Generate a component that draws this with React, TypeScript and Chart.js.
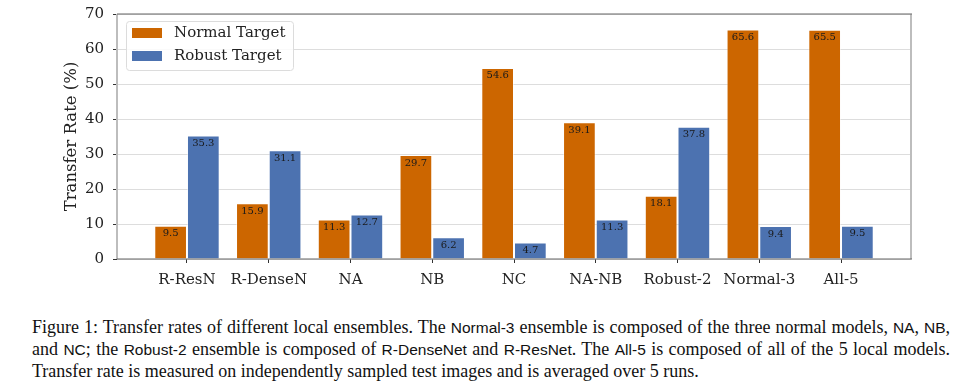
import React, { useEffect, useRef } from 'react';
import { Chart, registerables } from 'chart.js';

Chart.register(...registerables);

const categories = ['R-ResN', 'R-DenseN', 'NA', 'NB', 'NC', 'NA-NB', 'Robust-2', 'Normal-3', 'All-5'];
const normalTarget = [9.5, 15.9, 11.3, 29.7, 54.6, 39.1, 18.1, 65.6, 65.5];
const robustTarget = [35.3, 31.1, 12.7, 6.2, 4.7, 11.3, 37.8, 9.4, 9.5];
const seriesLabels = ['Normal Target', 'Robust Target'];
const yTicks = [0, 10, 20, 30, 40, 50, 60, 70];
const yTitle = 'Transfer Rate (%)';

const ORANGE = '#CC6600';
const BLUE = '#4C72B0';
const SERIF = '"DejaVu Serif", serif';

const valueLabelPlugin = {
  id: 'valueLabels',
  afterDatasetsDraw(chart: any) {
    const ctx = chart.ctx;
    ctx.save();
    ctx.font = `10px ${SERIF}`;
    ctx.fillStyle = '#1a1a1a';
    ctx.textAlign = 'center';
    ctx.textBaseline = 'middle';
    chart.data.datasets.forEach((ds: any, di: number) => {
      const meta = chart.getDatasetMeta(di);
      meta.data.forEach((el: any, i: number) => {
        const v = ds.data[i].y;
        ctx.fillText(v.toFixed(1), el.x, el.y + 8);
      });
    });
    ctx.restore();
  },
};

const framePlugin = {
  id: 'frame',
  afterDraw(chart: any) {
    const { ctx, chartArea: a } = chart;
    ctx.save();
    ctx.strokeStyle = '#bdbdbd';
    ctx.lineWidth = 2;
    ctx.beginPath();
    ctx.moveTo(a.left, a.top);
    ctx.lineTo(a.left, a.bottom);
    ctx.moveTo(a.right, a.top);
    ctx.lineTo(a.right, a.bottom);
    ctx.stroke();
    ctx.strokeStyle = '#666';
    ctx.lineWidth = 1.2;
    ctx.beginPath();
    ctx.moveTo(a.left, a.top);
    ctx.lineTo(a.right + 1, a.top);
    ctx.moveTo(a.left, a.bottom);
    ctx.lineTo(a.right + 1, a.bottom);
    ctx.stroke();
    ctx.restore();
  },
};

const legendPlugin = {
  id: 'boxLegend',
  afterDraw(chart: any) {
    const { ctx, chartArea: a } = chart;
    const x0 = a.left + 9;
    const y0 = a.top + 7;
    const w = 167;
    const h = 49;
    ctx.save();
    ctx.fillStyle = 'rgba(255,255,255,0.85)';
    ctx.strokeStyle = '#dcdcdc';
    ctx.lineWidth = 1;
    ctx.beginPath();
    (ctx as any).roundRect(x0 + 0.5, y0 + 0.5, w, h, 3);
    ctx.fill();
    ctx.stroke();
    ctx.font = `15px ${SERIF}`;
    ctx.textBaseline = 'middle';
    ctx.textAlign = 'left';
    chart.data.datasets.forEach((ds: any, i: number) => {
      const cy = y0 + 12 + i * 23;
      ctx.fillStyle = ds.backgroundColor;
      ctx.fillRect(x0 + 6, cy - 5, 30, 10);
      ctx.fillStyle = '#222';
      ctx.fillText(ds.label, x0 + 48, cy + 0.5);
    });
    ctx.restore();
  },
};

function BarChart() {
  const ref = useRef<HTMLCanvasElement | null>(null);
  useEffect(() => {
    if (!ref.current) return;
    const chart = new Chart(ref.current, {
      type: 'bar',
      data: {
        datasets: [
          {
            label: seriesLabels[0],
            data: normalTarget.map((v, i) => ({ x: i, y: v })),
            backgroundColor: ORANGE,
            borderColor: 'rgba(255,255,255,0.45)',
            borderWidth: 1,
            categoryPercentage: 0.8,
            barPercentage: 1.0,
          },
          {
            label: seriesLabels[1],
            data: robustTarget.map((v, i) => ({ x: i, y: v })),
            backgroundColor: BLUE,
            borderColor: 'rgba(255,255,255,0.45)',
            borderWidth: 1,
            categoryPercentage: 0.8,
            barPercentage: 1.0,
          },
        ],
      },
      options: {
        responsive: false,
        animation: false,
        layout: { padding: { left: 0, right: 60, top: 14, bottom: 0 } },
        plugins: { legend: { display: false }, tooltip: { enabled: false } },
        scales: {
          x: {
            type: 'linear',
            offset: false,
            min: -0.856,
            max: 8.856,
            afterBuildTicks: (axis: any) => {
              axis.ticks = categories.map((_, i) => ({ value: i }));
            },
            afterFit: (axis: any) => {
              axis.height = 41;
              axis.paddingLeft = 0;
              axis.paddingRight = 0;
            },
            ticks: {
              autoSkip: false,
              maxRotation: 0,
              padding: 8,
              color: '#222',
              font: { family: SERIF, size: 15 },
              callback: (v: any) => categories[Math.round(Number(v))] ?? '',
            },
            grid: { offset: false, drawOnChartArea: false, drawTicks: true, tickLength: 4, tickColor: '#333' },
            border: { display: false },
          },
          y: {
            min: 0,
            max: 70,
            z: 1,
            afterBuildTicks: (axis: any) => {
              axis.ticks = yTicks.map((v) => ({ value: v }));
            },
            afterFit: (axis: any) => {
              axis.width = 117;
              axis.paddingTop = 0;
              axis.paddingBottom = 0;
            },
            ticks: {
              padding: 9,
              color: '#222',
              font: { family: SERIF, size: 15 },
            },
            grid: {
              color: 'rgba(180,180,180,0.45)',
              lineWidth: 1,
              drawTicks: true,
              tickLength: 4,
              tickColor: '#333',
            },
            border: { display: false },
            title: {
              display: true,
              text: yTitle,
              color: '#222',
              font: { family: SERIF, size: 16.5 },
              padding: { top: 62, bottom: 0 },
            },
          },
        },
      },
      plugins: [valueLabelPlugin, framePlugin, legendPlugin],
    } as any);
    return () => chart.destroy();
  }, []);
  return <canvas ref={ref} width={971} height={300} style={{ display: 'block', width: 971, height: 300 }} />;
}

const SANS: React.CSSProperties = { fontFamily: '"Liberation Sans", sans-serif', fontSize: '15.5px' };

export default function App() {
  const lineStyle: React.CSSProperties = {
    width: 918,
    textAlign: 'justify',
    textAlignLast: 'justify' as any,
    whiteSpace: 'nowrap',
    height: 22,
  };
  return (
    <div style={{ position: 'absolute', left: 0, top: 0, width: 971, height: 390, background: '#fff', overflow: 'hidden' }}>
      <BarChart />
      <div
        style={{
          position: 'absolute',
          left: 32,
          top: 316,
          fontFamily: '"Liberation Serif", serif',
          fontSize: '18px',
          lineHeight: '22px',
          color: '#111',
        }}
      >
        <div style={lineStyle}>
          Figure 1: Transfer rates of different local ensembles. The <span style={SANS}>Normal-3</span> ensemble is composed of the three normal models, <span style={SANS}>NA</span>, <span style={SANS}>NB</span>,
        </div>
        <div style={lineStyle}>
          and <span style={SANS}>NC</span>; the <span style={SANS}>Robust-2</span> ensemble is composed of <span style={SANS}>R-DenseNet</span> and <span style={SANS}>R-ResNet</span>. The <span style={SANS}>All-5</span> is composed of all of the 5 local models.
        </div>
        <div style={{ height: 22, whiteSpace: 'nowrap' }}>
          Transfer rate is measured on independently sampled test images and is averaged over 5 runs.
        </div>
      </div>
    </div>
  );
}
